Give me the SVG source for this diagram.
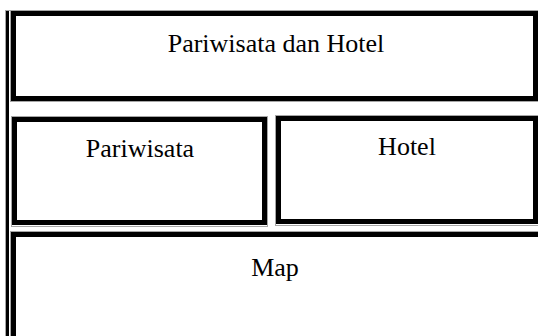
<svg xmlns="http://www.w3.org/2000/svg" width="538" height="336" viewBox="0 0 538 336">
<style>
.box{fill:#fff;stroke:#000;stroke-width:5}
.cell{fill:none;stroke:#a6a6a6;stroke-width:1}
.t{font-family:"Liberation Serif","Times New Roman",serif;font-size:26px;fill:#000;text-anchor:middle}
</style>
<rect width="538" height="336" fill="#fff"/>
<g id="frame">
<line x1="7.5" y1="10" x2="7.5" y2="336" stroke="#000" stroke-width="3"/>
<line x1="6" y1="10.5" x2="538" y2="10.5" class="cell"/>
<line x1="5.5" y1="10" x2="5.5" y2="336" class="cell"/>
</g>
<g id="top">
<rect class="cell" x="10.5" y="10.5" width="530" height="91"/>
<rect class="box" x="13.5" y="13.5" width="522" height="85"/>
<text class="t" x="276" y="52">Pariwisata dan Hotel</text>
</g>
<g id="pariwisata">
<rect class="cell" x="11.5" y="116.5" width="256" height="110"/>
<rect class="box" x="14.5" y="119.5" width="250" height="103"/>
<text class="t" x="140" y="157">Pariwisata</text>
</g>
<g id="hotel">
<rect class="cell" x="275.5" y="115.5" width="270" height="110"/>
<rect class="box" x="278.5" y="118.5" width="257" height="103"/>
<text class="t" x="407" y="155">Hotel</text>
</g>
<g id="map">
<rect class="cell" x="10.5" y="231.5" width="600" height="200"/>
<rect class="box" x="13.5" y="234.5" width="600" height="200"/>
<text class="t" x="275" y="276">Map</text>
</g>
<g id="connectors"></g>
</svg>
